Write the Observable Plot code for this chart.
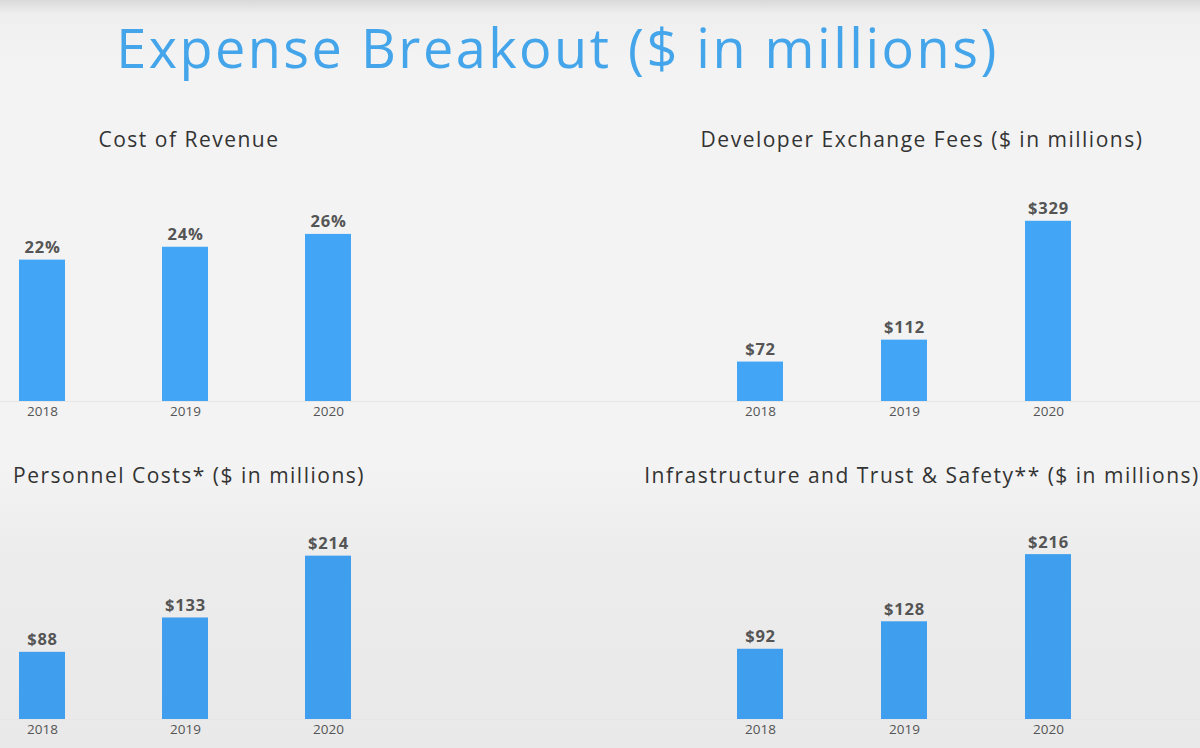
<!DOCTYPE html>
<html>
<head>
<meta charset="utf-8">
<script src="https://cdn.jsdelivr.net/npm/d3@7"></script>
<script src="https://cdn.jsdelivr.net/npm/@observablehq/plot@0.6"></script>
<style>
  html, body { margin: 0; padding: 0; }
  body {
    width: 1200px; height: 748px; overflow: hidden; position: relative;
    background: linear-gradient(to bottom, #d9d9d9 0px, #efefef 14px, #f3f3f3 60px, #f3f3f3 470px, #ececec 560px, #e9e9e9 748px);
    font-family: "Open Sans", sans-serif;
  }
  .title { position: absolute; left: 0; width: 1115px; top: 10px; text-align: center;
    font-size: 54px; letter-spacing: 2.5px; color: #45a5ea; font-weight: 400; white-space: nowrap; }
  .sub { position: absolute; text-align: center; font-size: 21px; letter-spacing: 1.5px; color: #333; white-space: nowrap; }
  .panel { position: absolute; }
</style>
</head>
<body>
<div class="title">Expense Breakout ($ in millions)</div>
<div id="charts"></div>
<script>
const years = ["2018", "2019", "2020"];
const costOfRevenue = [22, 24, 26];
const devExchangeFees = [72, 112, 329];
const personnelCosts = [88, 133, 214];
const infraTrustSafety = [92, 128, 216];

const panelTitles = [
  "Cost of Revenue",
  "Developer Exchange Fees ($ in millions)",
  "Personnel Costs* ($ in millions)",
  "Infrastructure and Trust & Safety** ($ in millions)"
];
const panelValues = [costOfRevenue, devExchangeFees, personnelCosts, infraTrustSafety];
const labelFormats = [v => v + "%", v => "$" + v, v => "$" + v, v => "$" + v];

// layout per panel
const layout = [
  {left: 0,   top: 160, height: 260, xr: [18, 352],  ymax: 37.5, subLeft: 0,   subTop: 125, subW: 378, fill: "#42a5f5"},
  {left: 600, top: 160, height: 260, xr: [136, 472], ymax: 440,  subLeft: 600, subTop: 125, subW: 644, fill: "#42a5f5"},
  {left: 0,   top: 490, height: 248, xr: [18, 352],  ymax: 300,  subLeft: 0,   subTop: 461, subW: 378, fill: "#3f9fee"},
  {left: 600, top: 490, height: 248, xr: [136, 472], ymax: 300,  subLeft: 600, subTop: 461, subW: 644, fill: "#3f9fee"}
];

const container = document.getElementById("charts");
panelValues.forEach((vals, i) => {
  const L = layout[i];
  const data = years.map((y, j) => ({year: y, value: vals[j]}));
  const sub = document.createElement("div");
  sub.className = "sub";
  sub.style.left = L.subLeft + "px";
  sub.style.top = L.subTop + "px";
  sub.style.width = L.subW + "px";
  sub.textContent = panelTitles[i];
  container.appendChild(sub);

  const chart = Plot.plot({
    width: 600,
    height: L.height,
    marginTop: 0,
    marginBottom: 19,
    marginLeft: 0,
    marginRight: 0,
    style: {background: "transparent", fontFamily: "Open Sans, sans-serif", overflow: "visible"},
    x: {domain: years, range: L.xr, paddingInner: 0.68, paddingOuter: 0, label: null},
    y: {domain: [0, L.ymax], axis: null},
    marks: [
      Plot.ruleY([0], {stroke: "#e6e6e6", strokeWidth: 1}),
      Plot.barY(data, {x: "year", y: "value", fill: L.fill}),
      Plot.text(data, {x: "year", y: "value", text: d => labelFormats[i](d.value),
        lineAnchor: "bottom", dy: -7, fontSize: 16.5, fontWeight: "bold", fill: "#555"}),
      Plot.axisX({tickSize: 0, tickPadding: 5, fontSize: 13.5, color: "#555", label: null})
    ]
  });
  chart.querySelectorAll('g[aria-label="text"] text').forEach(t => t.style.letterSpacing = "0.8px");
  chart.classList.add("panel");
  chart.style.left = L.left + "px";
  chart.style.top = L.top + "px";
  container.appendChild(chart);
});
</script>
</body>
</html>
